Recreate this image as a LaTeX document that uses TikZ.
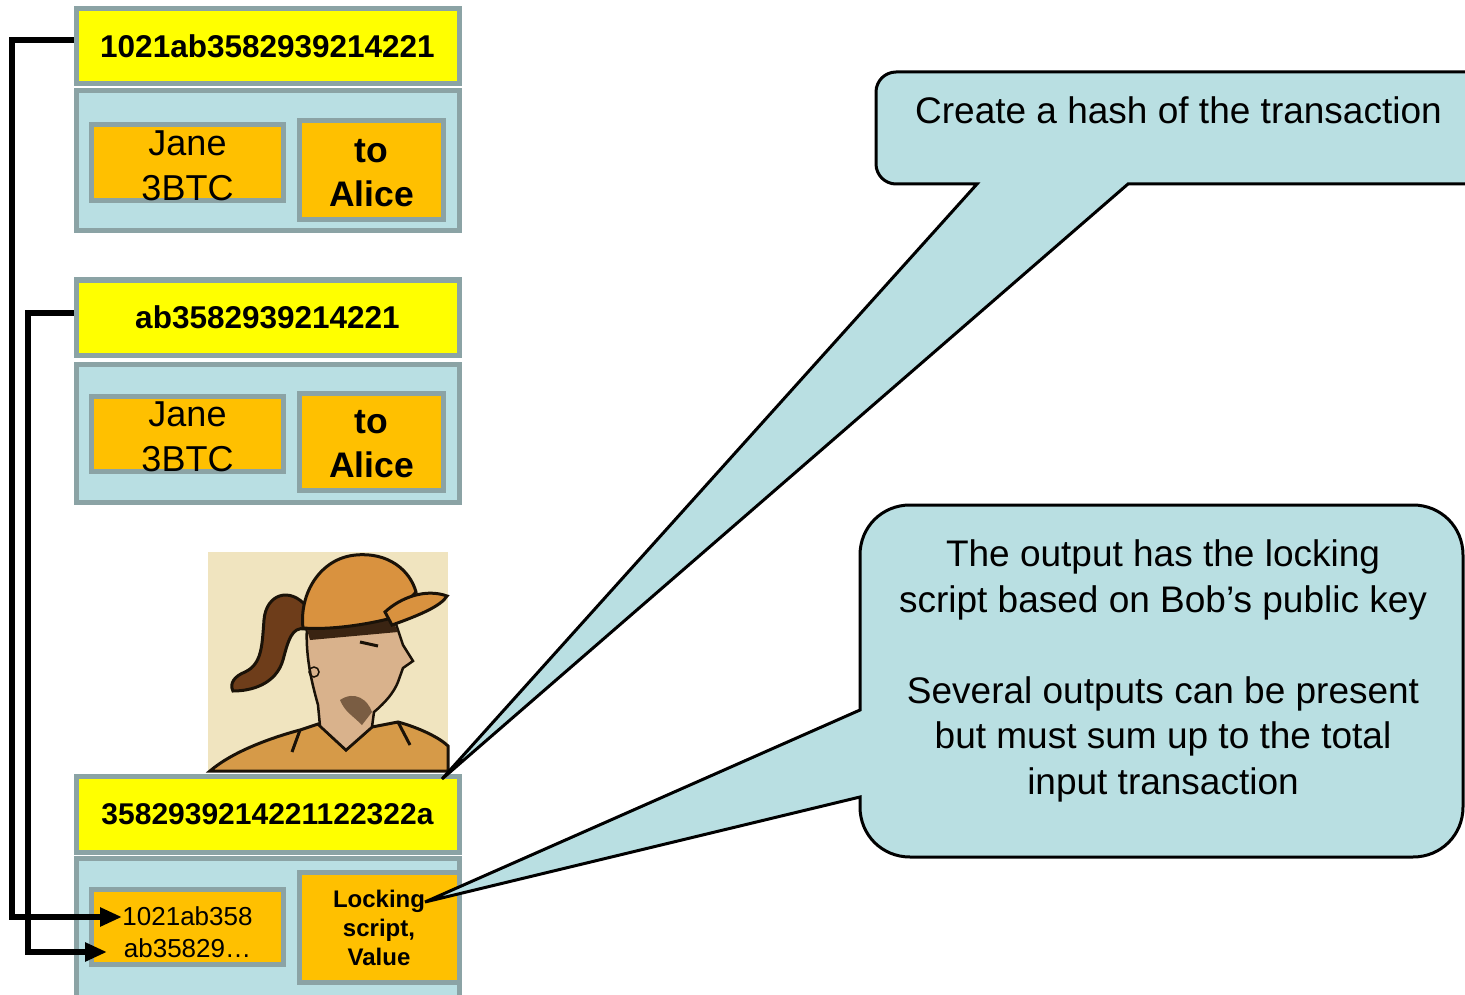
\documentclass[tikz,border=0pt]{standalone}
\usepackage{fontspec}
\setmainfont{Liberation Sans}
\usetikzlibrary{arrows.meta}

\definecolor{hashyellow}{HTML}{FFFF00}
\definecolor{fieldorange}{HTML}{FFC000}
\definecolor{bodyblue}{HTML}{B9DFE3}
\definecolor{framegray}{HTML}{8BA3A5}
\definecolor{calloutblue}{HTML}{B9DFE2}
\definecolor{bgcream}{HTML}{F0E4BF}
\definecolor{capcol}{HTML}{D9923F}
\definecolor{shirtcol}{HTML}{D69A48}
\definecolor{skincol}{HTML}{D9B28C}
\definecolor{haircol}{HTML}{6E3D1A}
\definecolor{hairdark}{HTML}{3A2412}
\definecolor{ink}{HTML}{1A1208}

\begin{document}
\begin{tikzpicture}[x=1pt,y=-1pt,
  frame/.style={draw=framegray, line width=5pt, inner sep=0pt, align=center},
  hashbox/.style={frame, fill=hashyellow, minimum width=383pt, minimum height=75pt,
    font=\fontsize{31.5}{37}\selectfont\bfseries},
  txbody/.style={frame, fill=bodyblue, minimum width=383pt},
  fieldbox/.style={frame, fill=fieldorange},
  amountbox/.style={fieldbox, minimum width=192pt, minimum height=76pt},
  payeebox/.style={fieldbox, minimum width=144pt, minimum height=99pt},
  boxtext/.style={inner sep=0pt, align=center},
  amounttext/.style={boxtext, font=\fontsize{36}{45}\selectfont},
  payeetext/.style={boxtext, font=\fontsize{35.5}{44}\selectfont\bfseries},
  link/.style={line width=6pt, -{Triangle[length=22pt,width=18pt]}},
  callout/.style={draw=black, line width=3pt, fill=calloutblue},
  callouttext/.style={font=\fontsize{37}{45.5}\selectfont, align=center, inner sep=0pt}]

\useasboundingbox (0,0) rectangle (1465,995);
\clip (0,0) rectangle (1465,995);

% ---------- first previous transaction ----------
\node[hashbox] (h1) at (267.5,46.5) {1021ab3582939214221};
\node[txbody, minimum height=140.5pt] (b1) at (267.5,160.75) {};
\node[amountbox] (j1) at (187.5,162.5) {};
\node[amounttext] (j1t) at ([yshift=-3pt]j1.center) {Jane\\3BTC};
\node[payeebox] (a1) at (371.5,170) {};
\node[payeetext] (a1t) at ([yshift=-3pt]a1.center) {to\\Alice};

% ---------- second previous transaction ----------
\node[hashbox] (h2) at (267.5,317.5) {ab3582939214221};
\node[txbody, minimum height=138pt] (b2) at (267.5,433.5) {};
\node[amountbox, minimum height=75pt] (j2) at (187.5,434) {};
\node[amounttext] (j2t) at ([yshift=-3pt]j2.center) {Jane\\3BTC};
\node[payeebox, minimum height=97pt] (a2) at (371.5,441.5) {};
\node[payeetext] (a2t) at ([yshift=-3pt]a2.center) {to\\Alice};

% ---------- Jane ----------
\begin{scope}
  \fill[bgcream] (208,552) rectangle (448,770);
  % shirt
  \filldraw[fill=shirtcol, draw=ink, line width=3pt]
    (210,771) .. controls (232,752) and (270,738) .. (300,730) -- (318,724)
    -- (346,750) -- (372,727) -- (398,722)
    .. controls (420,728) and (440,738) .. (448,746) -- (448,771) -- cycle;
  \draw[ink, line width=3pt] (300,730) -- (292,752);
  \draw[ink, line width=3pt] (398,722) -- (410,745);
  % neck and face
  \filldraw[fill=skincol, draw=ink, line width=2.5pt]
    (307,627) .. controls (305,660) and (314,690) .. (318,705) -- (320,726)
    -- (346,750) -- (372,727) -- (374,712)
    .. controls (386,702) and (394,692) .. (398,682) -- (403,668) -- (413,661)
    -- (403,645) -- (396,624) -- cycle;
  \fill[hairdark!60!skincol] (340,700) .. controls (355,690) and (368,700) .. (372,712)
    -- (362,725) .. controls (352,715) and (345,712) .. (340,700) -- cycle;
  % ponytail
  \filldraw[fill=haircol, draw=ink, line width=3pt]
    (307,607) .. controls (290,586) and (266,594) .. (264,620)
    .. controls (262,646) and (262,664) .. (245,672)
    .. controls (235,676) and (229,683) .. (233,691)
    .. controls (252,691) and (276,684) .. (283,660)
    .. controls (288,641) and (292,626) .. (305,629) -- cycle;
  % hair band under the cap
  \fill[hairdark] (306,626) -- (392,619) -- (398,632) -- (310,640) -- cycle;
  % cap crown and brim
  \filldraw[fill=capcol, draw=ink, line width=3pt]
    (303,628) .. controls (299,594) and (320,558) .. (356,555)
    .. controls (388,552) and (410,570) .. (416,592) -- (392,618)
    .. controls (365,625) and (330,630) .. (303,628) -- cycle;
  \filldraw[fill=capcol, draw=ink, line width=3pt]
    (385,612) .. controls (400,598) and (425,588) .. (447,596)
    .. controls (441,606) and (420,615) .. (392,625) -- cycle;
  % eye and earring
  \draw[ink, line width=3pt] (360,642) -- (378,646);
  \draw[ink, line width=1.5pt] (314,672) circle (5);
\end{scope}

% ---------- new transaction ----------
\node[hashbox, minimum height=75.5pt, font=\fontsize{30}{36}\selectfont\bfseries]
  (h3) at (267.5,814.25) {3582939214221122322a};
\node[txbody, minimum height=151pt] (b3) at (267.5,934) {};
\node[fieldbox, minimum width=192pt, minimum height=75.5pt] (l3) at (187.5,926.75) {};
\node[boxtext, font=\fontsize{26}{32}\selectfont] (l3t) at ([yshift=-5pt]l3.center)
  {1021ab358\\ab35829…};
\node[fieldbox, minimum width=160pt, minimum height=110pt,
  font=\fontsize{24}{29}\selectfont\bfseries] (r3) at (379,927.5) {Locking\\script,\\Value};

% ---------- references to the spent outputs ----------
\coordinate (bend1) at (12,917);
\coordinate (in1) at (122,917);
\coordinate (bend2) at (28,952);
\coordinate (in2) at (107,952);
\draw[link] ([yshift=6.5pt]h1.west) -| (bend1) -- (in1);
\draw[link] ([yshift=4.5pt]h2.west) -| (bend2) -- (in2);

% ---------- callouts ----------
\coordinate (tip1) at (442,779);
\coordinate (tip2) at (425,902);
\path[callout] (1480,184) -- (1128,184) -- (tip1) -- (977,184) -- (896,184)
  .. controls (885,184) and (876,175) .. (876,164) -- (876,92)
  .. controls (876,81) and (885,72) .. (896,72) -- (1480,72) -- cycle;
\node[callouttext, anchor=base west] (c1) at (915,124) {Create a hash of the transaction};

\path[callout] (910,505) -- (1413,505)
  .. controls (1441,505) and (1463,527) .. (1463,555) -- (1463,807)
  .. controls (1463,835) and (1441,857) .. (1413,857) -- (910,857)
  .. controls (882,857) and (860,835) .. (860,807) -- (860,797) -- (tip2)
  -- (860,710) -- (860,555)
  .. controls (860,527) and (882,505) .. (910,505) -- cycle;
\node[callouttext] (c2) at (1163,671)
  {The output has the locking\\script based on Bob’s public key\\[45.5pt]
   Several outputs can be present\\but must sum up to the total\\input transaction};
\end{tikzpicture}
\end{document}
